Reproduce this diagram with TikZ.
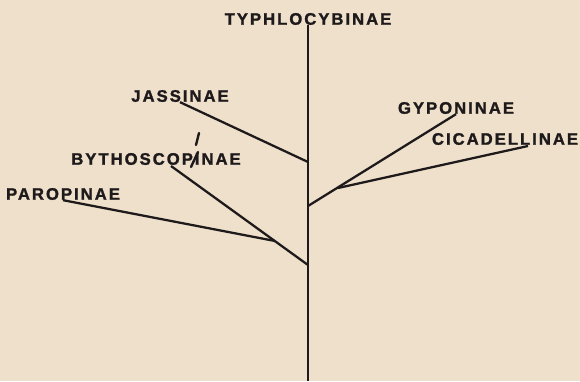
\documentclass[tikz,border=0pt]{standalone}
\usepackage{fontspec}
\usepackage{xcolor}
\usetikzlibrary{positioning}
\newfontfamily\labfont[LetterSpace=12,BoldFeatures={FakeBold=1.5}]{Liberation Sans}
\definecolor{paper}{RGB}{238,224,202}
\definecolor{ink}{RGB}{30,26,28}

\begin{document}
\begin{tikzpicture}[
  x=0.75pt, y=-0.75pt,
  taxon/.style={inner sep=0pt, font=\labfont\bfseries\fontsize{12.5}{13}\selectfont, text=ink},
  branch/.style={line width=1.7pt, draw=ink},
  pen/.style={line width=1.8pt, draw=ink, line cap=round},
]
\fill[paper] (0,0) rectangle (580,381);
\useasboundingbox (0,0) rectangle (580,381);
\node[taxon] (typh) at (308,19) {TYPHLOCYBINAE};
\node[taxon] (jass) at (180,96) {JASSINAE};
\node[taxon] (byth) at (156,159) {BYTHOSCOPINAE};
\node[taxon] (paro) at (63,194) {PAROPINAE};
\node[taxon] (gypo) at (456,108) {GYPONINAE};
\node[taxon] (cica) at (505,139) {CICADELLINAE};
\coordinate (base) at (308,381);
\coordinate (jassfork) at (308,162);
\coordinate (gypofork) at (308,206);
\coordinate (bythfork) at (308,265);
\coordinate (parofork) at (275,241);
\coordinate (cicafork) at (338,188);
\coordinate (bythend) at (171,166);
\coordinate (cicaend) at (528,146);
\draw[branch] (typh.south) -- (base);
\draw[branch] (jass.south) -- (jassfork);
\draw[branch] (bythend) -- (bythfork);
\draw[branch] (paro.south) -- (parofork);
\draw[branch] (gypo.south) -- (gypofork);
\draw[branch] (cicaend) -- (cicafork);
% pencil correction
\draw[pen] (199,133) -- (196,145);
\draw[pen] (198,152) -- (191,167);
\end{tikzpicture}
\end{document}
